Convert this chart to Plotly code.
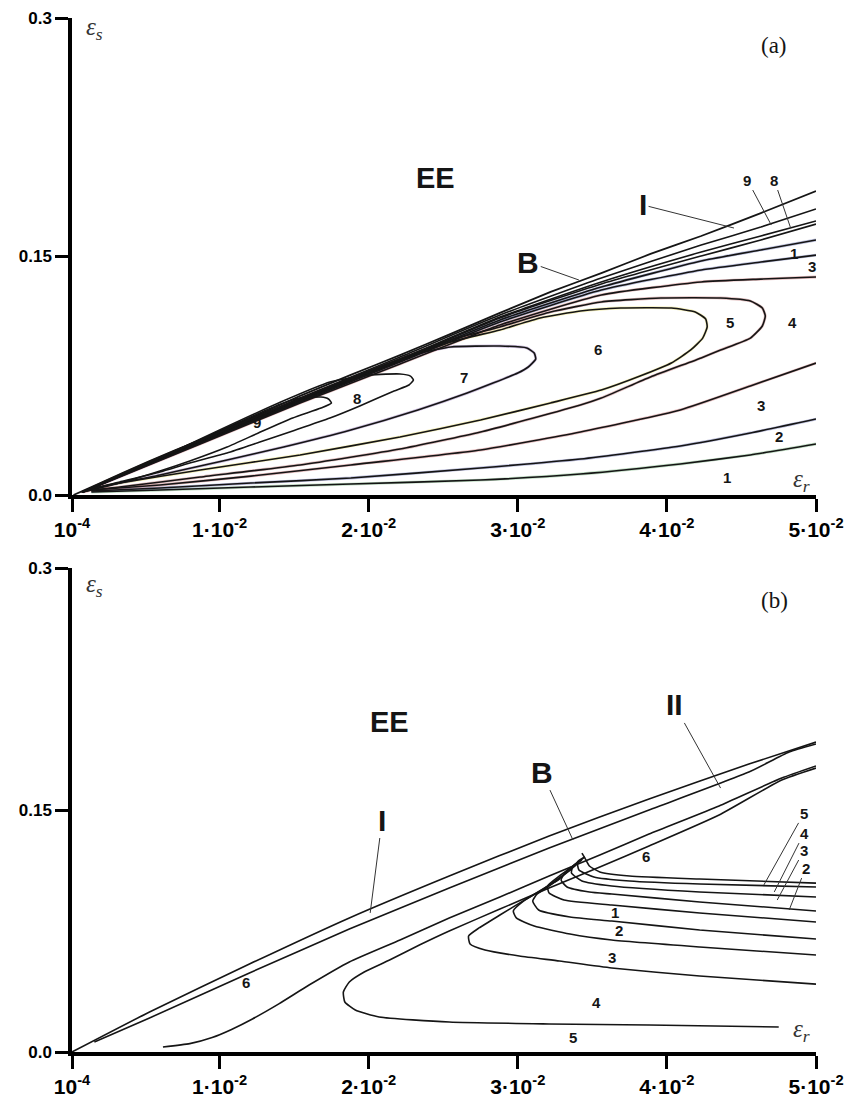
import plotly.graph_objects as go

# ---------------- axes ----------------
X_TICKS = [0.0001, 0.01, 0.02, 0.03, 0.04, 0.05]
X_TICK_TEXT = ["10<sup>-4</sup>", "1·10<sup>-2</sup>", "2·10<sup>-2</sup>",
               "3·10<sup>-2</sup>", "4·10<sup>-2</sup>", "5·10<sup>-2</sup>"]
Y_TICKS = [0.0, 0.15, 0.3]
Y_TICK_TEXT = ["0.0", "0.15", "0.3"]

# ---------------- panel (a) ----------------
# boundary B (topmost line)
A_TOP_X = [0.0002, 0.0020, 0.0053, 0.0087, 0.0121, 0.0154, 0.0188, 0.0221, 0.0255,
           0.0288, 0.0322, 0.0356, 0.0389, 0.0423, 0.0463, 0.0500]
A_TOP_Y = [0.0000, 0.0075, 0.0214, 0.0346, 0.0484, 0.0623, 0.0755, 0.0880, 0.1013,
           0.1145, 0.1277, 0.1396, 0.1516, 0.1629, 0.1773, 0.1912]

# upper fan of level lines
A_UP_X = [0.0008, 0.0087, 0.0154, 0.0221, 0.0288, 0.0356, 0.0423, 0.0463, 0.0500]
A_UP2_Y = [0.0019, 0.0340, 0.0610, 0.0868, 0.1132, 0.1365, 0.1572, 0.1685, 0.1799]
A_UP3_Y = [0.0019, 0.0333, 0.0604, 0.0855, 0.1119, 0.1340, 0.1528, 0.1629, 0.1723]
A_UP4_Y = [0.0019, 0.0333, 0.0597, 0.0849, 0.1113, 0.1327, 0.1503, 0.1604, 0.1704]
A_UP5_Y = [0.0019, 0.0327, 0.0591, 0.0843, 0.1101, 0.1308, 0.1472, 0.1541, 0.1604]
A_UP6_Y = [0.0019, 0.0327, 0.0585, 0.0836, 0.1088, 0.1289, 0.1415, 0.1465, 0.1509]
A_UP7_Y = [0.0019, 0.0321, 0.0579, 0.0824, 0.1069, 0.1258, 0.1340, 0.1358, 0.1371]

# lower level lines 1|2, 2|3, 3|4
A_LOW_X = [0.0014, 0.0060, 0.0121, 0.0188, 0.0275, 0.0342, 0.0409, 0.0456, 0.0500]
A_C1_Y = [0.0019, 0.0031, 0.0050, 0.0069, 0.0094, 0.0132, 0.0195, 0.0252, 0.0321]
A_C2_Y = [0.0025, 0.0044, 0.0075, 0.0107, 0.0170, 0.0226, 0.0308, 0.0390, 0.0478]
A_C3_Y = [0.0031, 0.0063, 0.0119, 0.0189, 0.0283, 0.0396, 0.0535, 0.0686, 0.0830]

# closed level loops 9, 8, 7, 6, 5
A_L9_X = [0.0008, 0.0053, 0.0100, 0.0141, 0.0154, 0.0168, 0.0173, 0.0175, 0.0168, 0.0149,
          0.0126, 0.0105, 0.0080, 0.0060, 0.0033, 0.0014, 0.0008]
A_L9_Y = [0.0019, 0.0201, 0.0403, 0.0572, 0.0610, 0.0616, 0.0604, 0.0579, 0.0547, 0.0484,
          0.0390, 0.0302, 0.0214, 0.0151, 0.0075, 0.0031, 0.0019]
A_L8_X = [0.0008, 0.0053, 0.0100, 0.0141, 0.0174, 0.0201, 0.0221, 0.0228, 0.0230, 0.0227,
          0.0217, 0.0194, 0.0174, 0.0149, 0.0127, 0.0105, 0.0080, 0.0060, 0.0033, 0.0014, 0.0008]
A_L8_Y = [0.0019, 0.0201, 0.0409, 0.0585, 0.0711, 0.0755, 0.0761, 0.0748, 0.0723, 0.0692,
          0.0654, 0.0560, 0.0484, 0.0403, 0.0333, 0.0264, 0.0201, 0.0145, 0.0082, 0.0038, 0.0019]
A_L7_X = [0.0008, 0.0053, 0.0121, 0.0188, 0.0235, 0.0255, 0.0288, 0.0306, 0.0311, 0.0312,
          0.0307, 0.0300, 0.0266, 0.0233, 0.0188, 0.0143, 0.0105, 0.0060, 0.0014, 0.0008]
A_L7_Y = [0.0019, 0.0208, 0.0478, 0.0730, 0.0893, 0.0931, 0.0937, 0.0925, 0.0893, 0.0855,
          0.0805, 0.0767, 0.0641, 0.0535, 0.0409, 0.0302, 0.0220, 0.0126, 0.0038, 0.0019]
A_L6_X = [0.0008, 0.0053, 0.0121, 0.0188, 0.0255, 0.0288, 0.0315, 0.0342, 0.0369, 0.0403,
          0.0419, 0.0426, 0.0427, 0.0424, 0.0416, 0.0403, 0.0382, 0.0356, 0.0322, 0.0275,
          0.0221, 0.0154, 0.0087, 0.0033, 0.0014, 0.0008]
A_L6_Y = [0.0019, 0.0208, 0.0478, 0.0730, 0.0962, 0.1038, 0.1113, 0.1157, 0.1176, 0.1176,
          0.1151, 0.1107, 0.1057, 0.0987, 0.0912, 0.0830, 0.0748, 0.0660, 0.0579, 0.0472,
          0.0365, 0.0252, 0.0157, 0.0075, 0.0038, 0.0019]
A_L5_X = [0.0008, 0.0053, 0.0121, 0.0188, 0.0255, 0.0288, 0.0322, 0.0356, 0.0396, 0.0436,
          0.0456, 0.0464, 0.0466, 0.0464, 0.0456, 0.0436, 0.0423, 0.0389, 0.0356, 0.0342,
          0.0275, 0.0221, 0.0154, 0.0087, 0.0033, 0.0014, 0.0008]
A_L5_Y = [0.0019, 0.0208, 0.0478, 0.0736, 0.0975, 0.1057, 0.1151, 0.1214, 0.1239, 0.1239,
          0.1220, 0.1176, 0.1126, 0.1063, 0.0987, 0.0912, 0.0862, 0.0742, 0.0610, 0.0566,
          0.0396, 0.0289, 0.0189, 0.0113, 0.0050, 0.0031, 0.0019]

# region labels (a): text, x, y
A_REGION_TEXT = ["9", "8", "7", "6", "5", "4", "3", "2", "1", "1", "3"]
A_REGION_X = [0.0125, 0.0192, 0.0264, 0.0354, 0.0442, 0.0484, 0.0463, 0.0475, 0.0440, 0.0485, 0.0497]
A_REGION_Y = [0.0453, 0.0610, 0.0742, 0.0912, 0.1082, 0.1088, 0.0560, 0.0365, 0.0113, 0.1522, 0.1434]

# labelled pointers (a): text, label x/y, tip x/y
A_PTR_TEXT = ["I", "B", "9", "8"]
A_PTR_LX = [0.0384, 0.0307, 0.0454, 0.0472]
A_PTR_LY = [0.1824, 0.1465, 0.1981, 0.1981]
A_PTR_TX = [0.0445, 0.0341, 0.0470, 0.0483]
A_PTR_TY = [0.1679, 0.1352, 0.1698, 0.1679]

# ---------------- panel (b) ----------------
B_L1_X = [0.0001, 0.0053, 0.0120, 0.0187, 0.0254, 0.0321, 0.0388, 0.0455, 0.0500]
B_L1_Y = [0.0000, 0.0248, 0.0545, 0.0831, 0.1091, 0.1339, 0.1568, 0.1785, 0.1921]
B_L2_X = [0.0016, 0.0053, 0.0120, 0.0187, 0.0254, 0.0321, 0.0388, 0.0455, 0.0482, 0.0500]
B_L2_Y = [0.0062, 0.0211, 0.0490, 0.0762, 0.1016, 0.1264, 0.1500, 0.1735, 0.1859, 0.1909]
B_D_X = [0.0062, 0.0080, 0.0095, 0.0108, 0.0122, 0.0140, 0.0160, 0.0187, 0.0221, 0.0254,
         0.0288, 0.0321, 0.0355, 0.0388, 0.0435, 0.0477, 0.0500]
B_D_Y = [0.0031, 0.0052, 0.0090, 0.0140, 0.0205, 0.0300, 0.0415, 0.0558, 0.0694, 0.0831,
         0.0961, 0.1091, 0.1221, 0.1351, 0.1525, 0.1698, 0.1773]
B_A45_X = [0.0500, 0.0477, 0.0435, 0.0388, 0.0355, 0.0321, 0.0288, 0.0254, 0.0234, 0.0214,
           0.0197, 0.0187, 0.0183, 0.0184, 0.0191, 0.0207, 0.0254, 0.0321, 0.0388, 0.0475]
B_A45_Y = [0.1760, 0.1686, 0.1469, 0.1277, 0.1147, 0.1016, 0.0886, 0.0750, 0.0663, 0.0570,
           0.0496, 0.0434, 0.0372, 0.0310, 0.0260, 0.0217, 0.0186, 0.0174, 0.0167, 0.0155]

# nested level lines fanning out to the right
B_F1_X = [0.0343, 0.0345, 0.0348, 0.0355, 0.0375, 0.0422, 0.0500]
B_F1_Y = [0.1233, 0.1202, 0.1153, 0.1116, 0.1091, 0.1072, 0.1047]
B_F2_X = [0.0345, 0.0340, 0.0341, 0.0351, 0.0375, 0.0422, 0.0500]
B_F2_Y = [0.1209, 0.1178, 0.1128, 0.1085, 0.1060, 0.1041, 0.1023]
B_F3_X = [0.0344, 0.0337, 0.0336, 0.0343, 0.0363, 0.0422, 0.0500]
B_F3_Y = [0.1202, 0.1153, 0.1109, 0.1060, 0.1029, 0.0992, 0.0961]
B_F4_X = [0.0343, 0.0332, 0.0329, 0.0333, 0.0348, 0.0363, 0.0422, 0.0500]
B_F4_Y = [0.1190, 0.1116, 0.1066, 0.1023, 0.0992, 0.0979, 0.0930, 0.0874]
B_F5_X = [0.0341, 0.0328, 0.0320, 0.0321, 0.0331, 0.0363, 0.0422, 0.0500]
B_F5_Y = [0.1178, 0.1091, 0.1029, 0.0985, 0.0942, 0.0911, 0.0862, 0.0806]
B_F6_X = [0.0339, 0.0325, 0.0313, 0.0310, 0.0314, 0.0335, 0.0363, 0.0422, 0.0500]
B_F6_Y = [0.1159, 0.1054, 0.0979, 0.0936, 0.0880, 0.0837, 0.0812, 0.0756, 0.0700]
B_F7_X = [0.0336, 0.0318, 0.0304, 0.0297, 0.0299, 0.0311, 0.0335, 0.0363, 0.0422, 0.0500]
B_F7_Y = [0.1134, 0.1016, 0.0936, 0.0874, 0.0831, 0.0781, 0.0731, 0.0694, 0.0651, 0.0601]
B_F8_X = [0.0328, 0.0308, 0.0288, 0.0274, 0.0267, 0.0268, 0.0278, 0.0301, 0.0328, 0.0363,
          0.0422, 0.0500]
B_F8_Y = [0.1072, 0.0961, 0.0849, 0.0769, 0.0719, 0.0669, 0.0632, 0.0595, 0.0564, 0.0521,
          0.0471, 0.0421]

B_REGION_TEXT = ["6", "6", "1", "2", "3", "4", "5"]
B_REGION_X = [0.0118, 0.0386, 0.0365, 0.0368, 0.0363, 0.0353, 0.0337]
B_REGION_Y = [0.0428, 0.1209, 0.0862, 0.0756, 0.0583, 0.0304, 0.0087]

B_PTR_TEXT = ["I", "B", "II", "5", "4", "3", "2"]
B_PTR_LX = [0.0209, 0.0316, 0.0405, 0.0492, 0.0492, 0.0492, 0.0493]
B_PTR_LY = [0.1438, 0.1735, 0.2151, 0.1481, 0.1357, 0.1252, 0.1140]
B_PTR_TX = [0.0201, 0.0337, 0.0436, 0.0465, 0.0472, 0.0474, 0.0482]
B_PTR_TY = [0.0862, 0.1314, 0.1636, 0.1035, 0.0992, 0.0942, 0.0880]

# ---------------- drawing ----------------
INK = "#151515"
SANS = "Liberation Sans"
SERIF = "Liberation Serif"

fig = go.Figure()


def curve(x, y, xa, ya, color=INK, width=1.6, opacity=1.0):
    fig.add_trace(go.Scatter(
        x=x, y=y, mode="lines", xaxis=xa, yaxis=ya, opacity=opacity,
        line=dict(color=color, width=width, shape="spline", smoothing=0.5),
        hoverinfo="skip", showlegend=False))


# panel (a): faint coloured traces under the black level lines
for xs, ys, col in [(A_LOW_X, A_C1_Y, "#2f8f3a"), (A_LOW_X, A_C2_Y, "#232a8c"),
                    (A_LOW_X, A_C3_Y, "#b0262a"), (A_L6_X, A_L6_Y, "#e3cf1c"),
                    (A_L5_X, A_L5_Y, "#a02a2a"), (A_L7_X, A_L7_Y, "#5b2c91"),
                    (A_UP_X, A_UP5_Y, "#22308f"), (A_UP_X, A_UP6_Y, "#22308f"),
                    (A_UP_X, A_UP7_Y, "#b0262a")]:
    curve(xs, ys, "x", "y", color=col, width=2.8, opacity=0.3)

curve(A_TOP_X, A_TOP_Y, "x", "y", width=1.8)
for ys in [A_UP2_Y, A_UP3_Y, A_UP4_Y, A_UP5_Y, A_UP6_Y, A_UP7_Y]:
    curve(A_UP_X, ys, "x", "y")
for ys in [A_C1_Y, A_C2_Y, A_C3_Y]:
    curve(A_LOW_X, ys, "x", "y")
for xs, ys in [(A_L9_X, A_L9_Y), (A_L8_X, A_L8_Y), (A_L7_X, A_L7_Y),
               (A_L6_X, A_L6_Y), (A_L5_X, A_L5_Y)]:
    curve(xs, ys, "x", "y")

# panel (b)
for xs, ys in [(B_L1_X, B_L1_Y), (B_L2_X, B_L2_Y), (B_D_X, B_D_Y), (B_A45_X, B_A45_Y),
               (B_F1_X, B_F1_Y), (B_F2_X, B_F2_Y), (B_F3_X, B_F3_Y), (B_F4_X, B_F4_Y),
               (B_F5_X, B_F5_Y), (B_F6_X, B_F6_Y), (B_F7_X, B_F7_Y), (B_F8_X, B_F8_Y)]:
    curve(xs, ys, "x2", "y2")

# ---------------- annotations ----------------
ann = []


def region_labels(texts, xs, ys, xr, yr, size):
    for t, x, y in zip(texts, xs, ys):
        ann.append(dict(text=t, x=x, y=y, xref=xr, yref=yr, showarrow=False,
                        font=dict(family=SANS, size=size, color=INK, weight="bold")))


def pointers(texts, lx, ly, tx, ty, xr, yr):
    for t, x0, y0, x1, y1 in zip(texts, lx, ly, tx, ty):
        big = t in ("I", "II", "B")
        ann.append(dict(text=t, x=x1, y=y1, ax=x0, ay=y0, xref=xr, yref=yr,
                        axref=xr, ayref=yr, showarrow=True, arrowhead=0,
                        arrowwidth=1.0, arrowcolor="#333333", standoff=0,
                        font=dict(family=SANS, size=30 if big else 15, color=INK,
                                  weight="bold")))


region_labels(A_REGION_TEXT, A_REGION_X, A_REGION_Y, "x", "y", 15)
pointers(A_PTR_TEXT, A_PTR_LX, A_PTR_LY, A_PTR_TX, A_PTR_TY, "x", "y")
region_labels(B_REGION_TEXT, B_REGION_X, B_REGION_Y, "x2", "y2", 15)
pointers(B_PTR_TEXT, B_PTR_LX, B_PTR_LY, B_PTR_TX, B_PTR_TY, "x2", "y2")

for xr, yr, tag, ee_x, ee_y, tag_y, es_y, er_y in [
        ("x", "y", "(a)", 0.0245, 0.1994, 0.283, 0.2937, 0.0094),
        ("x2", "y2", "(b)", 0.0214, 0.2045, 0.280, 0.2894, 0.0136)]:
    ann.append(dict(text="EE", x=ee_x, y=ee_y, xref=xr, yref=yr, showarrow=False,
                    font=dict(family=SANS, size=29, color=INK, weight="bold")))
    ann.append(dict(text=tag, x=0.0472, y=tag_y, xref=xr, yref=yr, showarrow=False,
                    font=dict(family=SERIF, size=23, color=INK)))
    ann.append(dict(text="<i>ε</i><sub><i>s</i></sub>", x=0.0009, y=es_y, xref=xr,
                    yref=yr, xanchor="left", showarrow=False,
                    font=dict(family=SERIF, size=25, color="#333333")))
    ann.append(dict(text="<i>ε</i><sub><i>r</i></sub>", x=0.0490, y=er_y, xref=xr,
                    yref=yr, showarrow=False,
                    font=dict(family=SERIF, size=25, color="#333333")))

# ---------------- layout ----------------
W, H = 850, 1099


def xaxis(anchor):
    return dict(domain=[72 / W, 816 / W], range=[0.0001, 0.05], anchor=anchor,
                automargin=False, showline=True, linewidth=3.5, linecolor="black",
                ticks="outside", ticklen=13, tickwidth=3, tickcolor="black",
                tickvals=X_TICKS, ticktext=X_TICK_TEXT, showgrid=False, zeroline=False,
                tickfont=dict(family=SANS, size=21, color="black", weight="bold"))


def yaxis(anchor, top_px, bottom_px):
    return dict(domain=[1 - bottom_px / H, 1 - top_px / H], range=[0, 0.3], anchor=anchor,
                automargin=False, showline=True, linewidth=3.5, linecolor="black",
                ticks="outside", ticklen=13, tickwidth=3, tickcolor="black",
                tickvals=Y_TICKS, ticktext=Y_TICK_TEXT, showgrid=False, zeroline=False,
                tickfont=dict(family=SANS, size=17, color="black", weight="bold"))


fig.update_layout(
    width=W, height=H, margin=dict(l=0, r=0, t=0, b=0, autoexpand=False),
    paper_bgcolor="white", plot_bgcolor="white", showlegend=False,
    xaxis=xaxis("y"), yaxis=yaxis("x", 18, 495),
    xaxis2=xaxis("y2"), yaxis2=yaxis("x2", 568, 1052),
    annotations=ann,
)

fig.write_html("out.html")
